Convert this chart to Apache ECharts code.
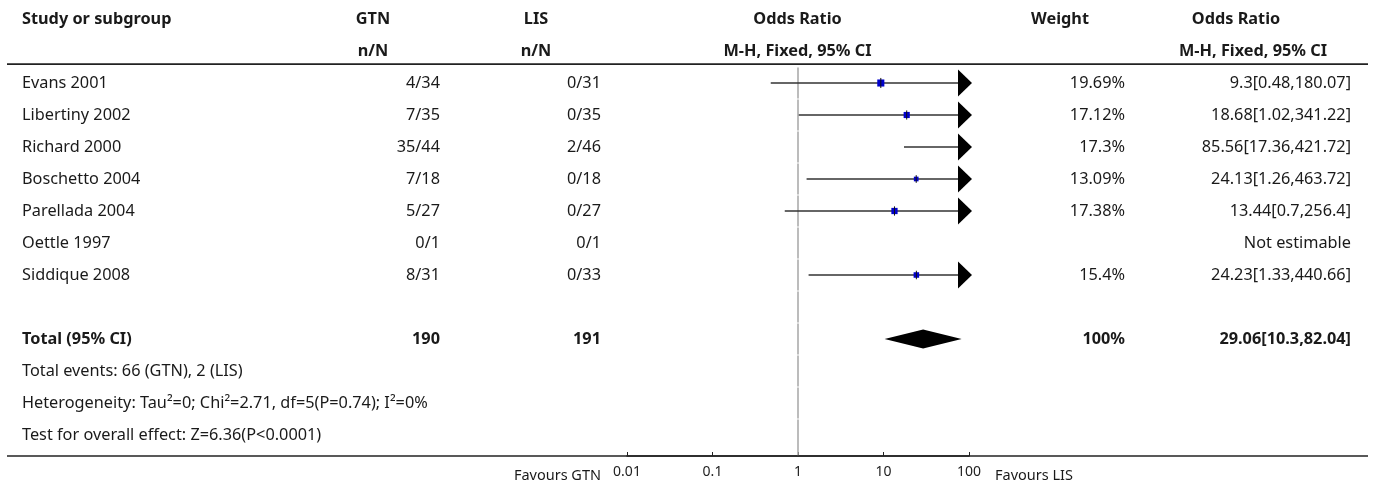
<!DOCTYPE html>
<html>
<head>
<meta charset="utf-8">
<script src="https://cdn.jsdelivr.net/npm/echarts@6/dist/echarts.min.js"></script>
<style>html,body{margin:0;padding:0;background:#fff;}#chart{width:1375px;height:486px;}</style>
</head>
<body>
<div id="chart"></div>
<script>
// ---- data ----
const studies = ['Evans 2001','Libertiny 2002','Richard 2000','Boschetto 2004','Parellada 2004','Oettle 1997','Siddique 2008'];
const gtnEvents = ['4/34','7/35','35/44','7/18','5/27','0/1','8/31'];
const lisEvents = ['0/31','0/35','2/46','0/18','0/27','0/1','0/33'];
const oddsRatio = [9.3, 18.68, 85.56, 24.13, 13.44, null, 24.23];
const ciLower   = [0.48, 1.02, 17.36, 1.26, 0.7, null, 1.33];
const ciUpper   = [180.07, 341.22, 421.72, 463.72, 256.4, null, 440.66];
const weights   = [19.69, 17.12, 17.3, 13.09, 17.38, null, 15.4];
const totalLabel = 'Total (95% CI)';
const totalGTN = 190, totalLIS = 191, totalWeight = 100;
const totalOR = 29.06, totalLower = 10.3, totalUpper = 82.04;
const footnotes = ['Total events: 66 (GTN), 2 (LIS)',
  'Heterogeneity: Tau\u00b2=0; Chi\u00b2=2.71, df=5(P=0.74); I\u00b2=0%',
  'Test for overall effect: Z=6.36(P<0.0001)'];
const tickLabels = ['0.01','0.1','1','10','100'];
const xMin = 0.01, xMax = 100;
const favours = ['Favours GTN','Favours LIS'];

// ---- layout ----
const FAM = '"Noto Sans", sans-serif';
const FS = 16.3;
const col = { study: 22, gtn: 440, gtnHead: 373, lis: 601, lisHead: 536, orHead: 797.5,
  weight: 1125, weightHead: 1060, ci: 1351, ciHead1: 1236, ciHead2: 1253, lineL: 7, lineR: 1368 };
const TOTAL_ROW = 8;
const FOOT_ROW = 9;
const Y_MAX = 11.65625;

function txt(s, x, y, align, bold, size, color) {
  const a = align || 'left';
  return { type: 'text', style: { text: s, x: x, y: y, fill: color || '#1a1a1a',
    font: (bold ? 'bold ' : '') + (size || FS) + 'px ' + FAM,
    align: a, verticalAlign: 'middle', textAlign: a, textVerticalAlign: 'middle' } };
}
function hline(x1, x2, y, w, c) {
  return { type: 'line', shape: { x1: x1, y1: y, x2: x2, y2: y }, style: { stroke: c || '#333', lineWidth: w || 1.5 } };
}
function fmtCI(o, l, u) { return o + '[' + l + ',' + u + ']'; }

// table rows: header(-2,-1), studies 0..6, total 8, footnotes 9..11
const tableRows = [-2, -1].concat(studies.map((s, i) => i), [TOTAL_ROW], footnotes.map((f, i) => FOOT_ROW + i));

function renderTable(params, api) {
  const r = api.value(1);
  const y = api.coord([1, r])[1];
  const ch = [];
  if (r === -2) {
    ch.push(txt('Study or subgroup', col.study, y, 'left', true));
    ch.push(txt('GTN', col.gtnHead, y, 'center', true));
    ch.push(txt('LIS', col.lisHead, y, 'center', true));
    ch.push(txt('Odds Ratio', col.orHead, y, 'center', true));
    ch.push(txt('Weight', col.weightHead, y, 'center', true));
    ch.push(txt('Odds Ratio', col.ciHead1, y, 'center', true));
  } else if (r === -1) {
    ch.push(txt('n/N', col.gtnHead, y, 'center', true));
    ch.push(txt('n/N', col.lisHead, y, 'center', true));
    ch.push(txt('M-H, Fixed, 95% CI', col.orHead, y, 'center', true));
    ch.push(txt('M-H, Fixed, 95% CI', col.ciHead2, y, 'center', true));
    const yl = api.coord([1, -0.59])[1];
    ch.push(hline(col.lineL, col.lineR, yl, 1.6, '#222'));
    const yb = api.coord([1, Y_MAX])[1];
    ch.push(hline(col.lineL, col.lineR, yb, 1.6, '#222'));
    ch.push(txt(favours[0], col.lis, yb + 20, 'right', false, 14.5));
    ch.push(txt(favours[1], api.coord([xMax, 0])[0] + 26, yb + 20, 'left', false, 14.5));
  } else if (r >= 0 && r < studies.length) {
    const i = r;
    ch.push(txt(studies[i], col.study, y, 'left'));
    ch.push(txt(gtnEvents[i], col.gtn, y, 'right'));
    ch.push(txt(lisEvents[i], col.lis, y, 'right'));
    if (weights[i] != null) ch.push(txt(weights[i] + '%', col.weight, y, 'right'));
    ch.push(txt(oddsRatio[i] == null ? 'Not estimable' : fmtCI(oddsRatio[i], ciLower[i], ciUpper[i]), col.ci, y, 'right'));
  } else if (r === TOTAL_ROW) {
    ch.push(txt(totalLabel, col.study, y, 'left', true));
    ch.push(txt(String(totalGTN), col.gtn, y, 'right', true));
    ch.push(txt(String(totalLIS), col.lis, y, 'right', true));
    ch.push(txt(totalWeight + '%', col.weight, y, 'right', true));
    ch.push(txt(fmtCI(totalOR, totalLower, totalUpper), col.ci, y, 'right', true));
  } else {
    ch.push(txt(footnotes[r - FOOT_ROW], col.study, y, 'left'));
  }
  return { type: 'group', children: ch };
}

// reference line (x = 1), drawn per row
const refRows = Array.from({ length: 12 }, (_, i) => i);
function renderRef(params, api) {
  const r = api.value(1);
  const x = api.coord([1, r])[0];
  const y1 = api.coord([1, r - 0.5])[1] + 0.5;
  const y2 = api.coord([1, r === 11 ? Y_MAX : r + 0.5])[1] - (r === 11 ? 0 : 0.5);
  return { type: 'line', shape: { x1: x, y1: y1, x2: x, y2: y2 }, style: { stroke: '#a6a6a6', lineWidth: 1.5 } };
}

// study CIs
const ciData = studies.map((s, i) => oddsRatio[i] == null ? null : [oddsRatio[i], i, ciLower[i], ciUpper[i], weights[i]]).filter(d => d);
function renderCI(params, api) {
  const o = api.value(0), r = api.value(1), lo = api.value(2), up = api.value(3), w = api.value(4);
  const c = api.coord([o, r]);
  const loP = api.coord([Math.max(lo, xMin), r]);
  const upP = api.coord([Math.min(up, xMax), r]);
  const ch = [];
  const arrow = up > xMax;
  const xEnd = arrow ? upP[0] - 11 : upP[0];
  ch.push({ type: 'line', shape: { x1: loP[0], y1: c[1], x2: xEnd, y2: c[1] }, style: { stroke: '#333', lineWidth: 1.5 } });
  const s = w * 0.36;
  ch.push({ type: 'rect', shape: { x: c[0] - s / 2, y: c[1] - s / 2, width: s, height: s }, style: { fill: '#0000cc' } });
  ch.push({ type: 'line', shape: { x1: c[0], y1: c[1] - s / 2 - 1.5, x2: c[0], y2: c[1] + s / 2 + 1.5 }, style: { stroke: '#111', lineWidth: 1 } });
  if (arrow) {
    ch.push({ type: 'polygon', shape: { points: [[upP[0] - 11, c[1] - 13.5], [upP[0] + 3, c[1]], [upP[0] - 11, c[1] + 13.5]] }, style: { fill: '#000' } });
  }
  return { type: 'group', children: ch };
}

// total diamond
const totalData = [[totalOR, TOTAL_ROW, totalLower, totalUpper]];
function renderDiamond(params, api) {
  const r = api.value(1);
  const c = api.coord([api.value(0), r]);
  const l = api.coord([api.value(2), r]);
  const u = api.coord([api.value(3), r]);
  const top = api.coord([1, r - 0.3])[1], bot = api.coord([1, r + 0.3])[1];
  return { type: 'polygon', shape: { points: [[l[0], c[1]], [c[0], top], [u[0], c[1]], [c[0], bot]] }, style: { fill: '#000' } };
}

const chart = echarts.init(document.getElementById('chart'), null, { renderer: 'canvas' });
chart.setOption({
  animation: false,
  backgroundColor: '#fff',
  grid: { left: 627, right: 406, top: 3, bottom: 30, containLabel: false },
  xAxis: {
    type: 'log', logBase: 10, min: xMin, max: xMax, position: 'bottom',
    axisLine: { show: true, onZero: false, lineStyle: { color: '#222', width: 1.6 } },
    axisTick: { show: true, inside: true, length: 4, lineStyle: { color: '#222', width: 1 } },
    splitLine: { show: false },
    axisLabel: { margin: 9, fontSize: 14, fontFamily: FAM, color: '#222',
      formatter: v => tickLabels[Math.round(Math.log10(v)) + 2] }
  },
  yAxis: { type: 'value', inverse: true, min: -2.5, max: Y_MAX, show: false },
  series: [
    { type: 'custom', name: 'ref', clip: false, renderItem: renderRef, data: refRows.map(r => [1, r]), z: 1 },
    { type: 'custom', name: 'table', clip: false, renderItem: renderTable, data: tableRows.map(r => [1, r]), z: 2 },
    { type: 'custom', name: 'ci', clip: false, renderItem: renderCI, data: ciData, z: 3 },
    { type: 'custom', name: 'total', clip: false, renderItem: renderDiamond, data: totalData, z: 3 }
  ]
});
</script>
</body>
</html>
